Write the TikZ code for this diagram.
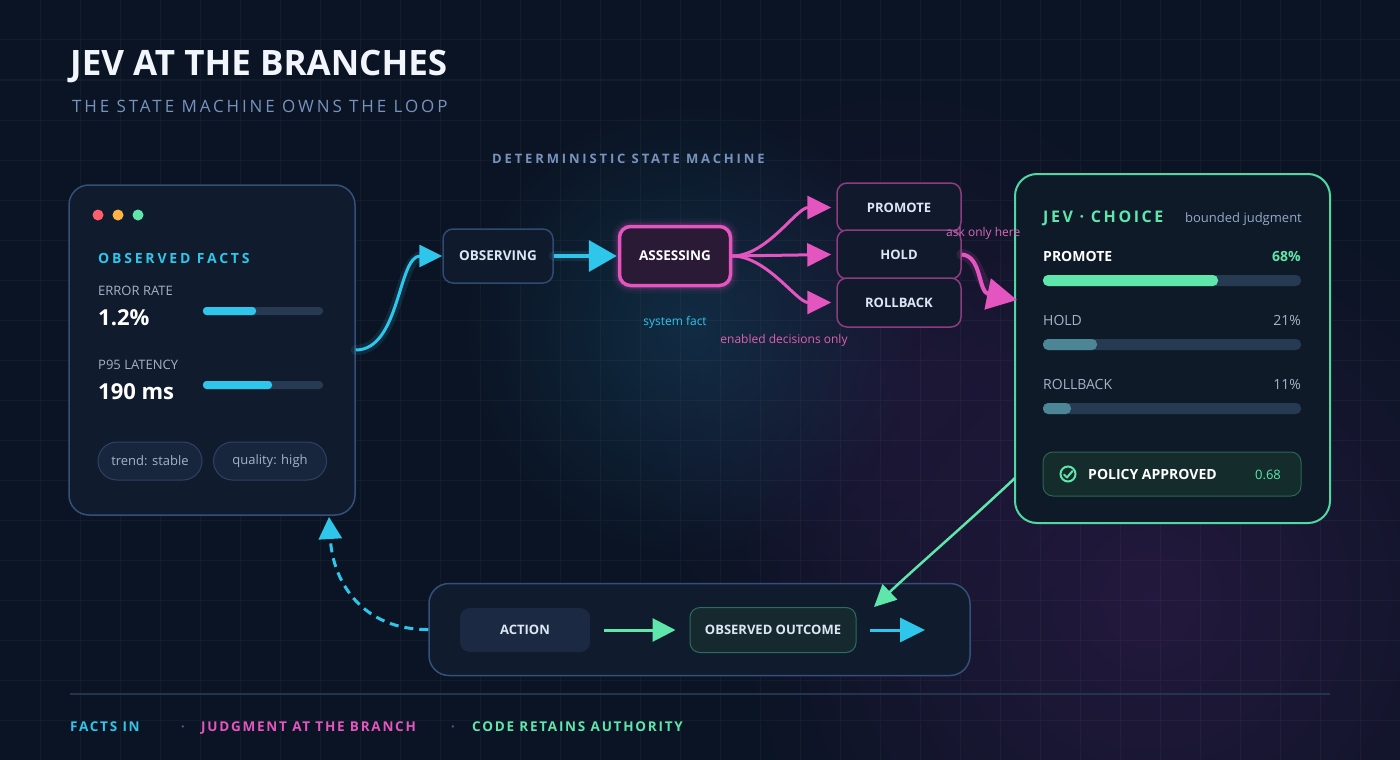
\documentclass[tikz,border=0pt]{standalone}
\usepackage{fontspec}
\setmainfont{Open Sans}
\usetikzlibrary{arrows.meta,fadings,calc}
\newcommand{\myfs}[1]{\fontsize{#1}{#1}\selectfont}
\newcommand{\myls}[1]{\addfontfeature{LetterSpace=#1}}
\definecolor{bgc}{HTML}{0B1424}
\definecolor{cardfill}{HTML}{111B2E}
\definecolor{cardline}{HTML}{34507A}
\definecolor{jevfill}{HTML}{0F1A28}
\definecolor{jevline}{HTML}{4FD8A2}
\definecolor{cyanc}{HTML}{2EC6EA}
\definecolor{magc}{HTML}{E455BF}
\definecolor{greenc}{HTML}{5EE6AB}
\definecolor{titlec}{HTML}{F2F6FC}
\definecolor{subc}{HTML}{7793BD}
\definecolor{mutedc}{HTML}{A4B3C8}
\definecolor{trackc}{HTML}{263A52}
\definecolor{holdbar}{HTML}{4C8595}
\definecolor{pillfill}{HTML}{17253D}
\definecolor{pillline}{HTML}{2D4263}
\definecolor{statefill}{HTML}{0F1A2D}
\definecolor{obsline}{HTML}{2F4B70}
\definecolor{assfill}{HTML}{2B1A35}
\definecolor{choiceline}{HTML}{8C3C7F}
\definecolor{choicefill}{HTML}{111A2D}
\definecolor{actfill}{HTML}{1B2A42}
\definecolor{outline}{HTML}{2C6E5C}
\definecolor{outfill}{HTML}{15292E}
\definecolor{polfill}{HTML}{142C2C}
\definecolor{polline}{HTML}{2A6650}
\definecolor{footline}{HTML}{22344E}
\definecolor{dotc}{HTML}{4A6080}
\definecolor{nodetext}{HTML}{DCE6F4}
\definecolor{asktext}{HTML}{D46CB5}
\definecolor{enabletext}{HTML}{E060B0}
\definecolor{redc}{HTML}{FF5F6D}
\definecolor{orangec}{HTML}{FFB347}
\definecolor{tealglow}{HTML}{14405A}
\definecolor{purpglow}{HTML}{2A1A44}
\tikzfading[name=softglow, inner color=transparent!0, outer color=transparent!100]
\tikzset{
  card/.style={draw=cardline, line width=1.5pt, fill=cardfill, rounded corners=20pt, inner sep=0pt},
  txt/.style={anchor=base west, inner sep=0pt, text=#1},
  txtr/.style={anchor=base east, inner sep=0pt, text=#1},
  statebox/.style={draw=obsline, line width=1.5pt, fill=statefill, rounded corners=10pt, inner sep=0pt,
    minimum width=110pt, minimum height=54pt, text=nodetext, font=\myfs{13.5}\bfseries},
  assessbox/.style={draw=magc, line width=3.5pt, fill=assfill, rounded corners=11pt, inner sep=0pt,
    minimum width=111pt, minimum height=59pt, text=white, font=\myfs{13.5}\bfseries},
  choicebox/.style={draw=choiceline, line width=1.5pt, fill=choicefill, rounded corners=10pt, inner sep=0pt,
    minimum width=124pt, minimum height=49pt, text=nodetext, font=\myfs{13}\bfseries},
  pill/.style={draw=pillline, line width=1pt, fill=pillfill, rounded corners=19pt, inner sep=0pt,
    minimum height=38pt, text=mutedc, font=\myfs{13}},
  cyanline/.style={draw=cyanc, line width=3pt},
  magline/.style={draw=magc, line width=3pt},
  greenline/.style={draw=greenc, line width=2.5pt},
  glowcyan/.style={draw=cyanc, line width=10pt, opacity=0.12, line cap=round},
  glowmag/.style={draw=magc, line width=11pt, opacity=0.14, line cap=round},
}
\begin{document}
\begin{tikzpicture}[x=1pt,y=-1pt]
\useasboundingbox (0,0) rectangle (1400,760);
% background
\fill[bgc] (0,0) rectangle (1400,760);
\fill[purpglow, path fading=softglow, fill opacity=0.8] (1150,600) circle (420);
\fill[purpglow, path fading=softglow, fill opacity=0.5] (900,380) circle (300);
\fill[tealglow, path fading=softglow, fill opacity=0.55] (690,330) circle (230);
\draw[white, opacity=0.035, line width=1pt]
  \foreach \gx in {40,80,...,1360} {(\gx,0) -- (\gx,760)}
  \foreach \gy in {40,80,...,720} {(0,\gy) -- (1400,\gy)};

% title
\node[txt=titlec, font=\myfs{35}\bfseries] (title) at (70,76) {JEV AT THE BRANCHES};
\node[txt=subc, font=\myfs{17}\myls{17}] (subtitle) at (72,112) {THE STATE MACHINE OWNS THE LOOP};
\node[txt=subc, font=\myfs{13}\bfseries\myls{22}] (dsm) at (492,163) {DETERMINISTIC STATE MACHINE};

% left card
\node[card, minimum width=286pt, minimum height=330pt] (facts) at (212,350) {};
\fill[redc] (98,215) circle (5.5);
\fill[orangec] (118,215) circle (5.5);
\fill[greenc] (138,215) circle (5.5);
\node[txt=cyanc, font=\myfs{14}\bfseries\myls{20}] (oflabel) at (98,263) {OBSERVED FACTS};
\node[txt=mutedc, font=\myfs{13}] (errl) at (98,295) {ERROR RATE};
\node[txt=white, font=\myfs{22}\bfseries] (errv) at (98,325) {1.2\%};
\fill[trackc, rounded corners=3.5pt] (203,307) rectangle (323,315);
\fill[cyanc, rounded corners=3.5pt] (203,307) rectangle (256,315);
\node[txt=mutedc, font=\myfs{13}] (latl) at (98,369) {P95 LATENCY};
\node[txt=white, font=\myfs{22}\bfseries] (latv) at (98,399) {190 ms};
\fill[trackc, rounded corners=3.5pt] (203,381) rectangle (323,389);
\fill[cyanc, rounded corners=3.5pt] (203,381) rectangle (272,389);
\node[pill, minimum width=104pt] (trend) at (150,461) {trend: stable};
\node[pill, minimum width=113pt] (quality) at (270,461) {quality: high};

% right card
\node[card, draw=jevline, fill=jevfill, line width=2pt, rounded corners=22pt, minimum width=315pt, minimum height=349pt] (jev) at (1172.5,348.5) {};
\node[txt=greenc, font=\myfs{16}\bfseries\myls{16}] (jevt) at (1043,222) {JEV · CHOICE};
\node[txtr=subc!80!white, font=\myfs{13}] (bj) at (1302,222) {bounded judgment};
\node[txt=white, font=\myfs{14}\bfseries] (pl) at (1043,261) {PROMOTE};
\node[txtr=greenc, font=\myfs{14}\bfseries] (pv) at (1301,261) {68\%};
\fill[trackc, rounded corners=5pt] (1043,275) rectangle (1301,286);
\fill[greenc, rounded corners=5pt] (1043,275) rectangle (1218,286);
\node[txt=mutedc, font=\myfs{14}] (hl) at (1043,325) {HOLD};
\node[txtr=mutedc, font=\myfs{14}] (hv) at (1301,325) {21\%};
\fill[trackc, rounded corners=5pt] (1043,339) rectangle (1301,350);
\fill[holdbar, rounded corners=5pt] (1043,339) rectangle (1097,350);
\node[txt=mutedc, font=\myfs{14}] (rl) at (1043,389) {ROLLBACK};
\node[txtr=mutedc, font=\myfs{14}] (rv) at (1301,389) {11\%};
\fill[trackc, rounded corners=5pt] (1043,403) rectangle (1301,414);
\fill[holdbar, rounded corners=5pt] (1043,403) rectangle (1071,414);
\node[draw=polline, line width=1pt, fill=polfill, rounded corners=10pt, minimum width=258pt, minimum height=44pt, inner sep=0pt] (pol) at (1172,474) {};
\draw[greenc, line width=2pt] (1068,474) circle (7.5);
\draw[greenc, line width=2pt, line cap=round, line join=round] (1064,474.5) -- (1067,477.5) -- (1072.5,471);
\node[txt=white, font=\myfs{14}\bfseries] (pa) at (1088,479) {POLICY APPROVED};
\node[anchor=base, inner sep=0pt, text=greenc, font=\myfs{13}] (pav) at (1268,479) {0.68};

% state machine glow
\foreach \w/\o in {16/0.05, 11/0.07, 7/0.10} {
  \draw[magc, opacity=\o, line width=\w pt, rounded corners=11pt] (619.5,226.5) rectangle (730.5,285.5);
}
\node[statebox] (obs) at (498,256) {OBSERVING};
\node[assessbox] (ass) at (675,256) {ASSESSING};
\node[choicebox] (prom) at (899,207.5) {PROMOTE};
\node[choicebox] (hold) at (899,254.5) {HOLD};
\node[choicebox] (roll) at (899,302.5) {ROLLBACK};

% bottom loop
\node[card, minimum width=541pt, minimum height=92pt] (loop) at (699.5,629.5) {};
\node[fill=actfill, rounded corners=10pt, minimum width=130pt, minimum height=44pt, inner sep=0pt, text=nodetext, font=\myfs{13}\bfseries] (act) at (525,630) {ACTION};
\node[draw=outline, line width=1pt, fill=outfill, rounded corners=10pt, minimum width=166pt, minimum height=45pt, inner sep=0pt, text=nodetext, font=\myfs{13}\bfseries] (out) at (773,630) {OBSERVED OUTCOME};

% connectors
\coordinate (jevin) at (1017,300);
\coordinate (jevout) at (1015,478);
\coordinate (outin) at (874,607);
\coordinate (loopend) at (925,630);
\coordinate (factsin) at (329,517);

\draw[glowcyan] (facts.east) .. controls (400,350) and (398,256) .. ([xshift=-20pt]obs.west);
\draw[cyanline, -{Triangle[length=23pt,width=22pt]}] (facts.east) .. controls (400,350) and (398,256) .. (obs.west);
\draw[glowcyan, line width=10pt] (obs.east) -- ([xshift=-26pt]ass.west);
\draw[cyanline, line width=4pt, -{Triangle[length=28pt,width=31pt]}] (obs.east) -- ([xshift=-1pt]ass.west);

\draw[magline, -{Triangle[length=24pt,width=23pt]}] (ass.east) to[out=0, in=180, looseness=0.8] ([xshift=-5pt]prom.west);
\draw[magline, -{Triangle[length=24pt,width=23pt]}] (ass.east) -- ([xshift=-5pt]hold.west);
\draw[magline, -{Triangle[length=24pt,width=23pt]}] (ass.east) to[out=0, in=180, looseness=0.8] ([xshift=-5pt]roll.west);

\draw[glowmag] (hold.east) .. controls (978,256) and (978,280) .. (992,295);
\draw[magline, line width=4pt, -{Triangle[length=30pt,width=31pt]}] (hold.east) .. controls (982,256) and (978,292) .. (jevin);

\draw[greenline, -{Triangle[length=22pt,width=21pt]}] (jevout) .. controls (965,525) and (915,568) .. (outin);
\draw[greenline, line width=3pt, -{Triangle[length=23pt,width=23pt]}] ([xshift=14pt]act.east) -- ([xshift=-14pt]out.west);
\draw[cyanline, -{Triangle[length=25pt,width=24pt]}] ([xshift=13pt]out.east) -- (loopend);
\draw[cyanline, dash pattern=on 9pt off 6pt, -{Triangle[length=22pt,width=23pt]}] (loop.west) .. controls (365,630) and (333,585) .. (factsin);

% labels
\node[txt=asktext, font=\myfs{12}] (ask) at (946,236) {ask only here};
\node[anchor=base, inner sep=0pt, text=cyanc, font=\myfs{12}] (sysf) at (675,325) {system fact};
\node[anchor=base, inner sep=0pt, text=enabletext, font=\myfs{12}] (enab) at (784,343) {enabled decisions only};

% footer
\draw[footline, line width=2pt] (70,694) -- (1330,694);
\node[txt=cyanc, font=\myfs{13.5}\bfseries\myls{13}] (f1) at (70,731) {FACTS IN};
\node[anchor=base, inner sep=0pt, text=dotc, font=\myfs{13}\bfseries] (d1) at (183,731) {·};
\node[txt=magc, font=\myfs{13.5}\bfseries\myls{13}] (f2) at (201,731) {JUDGMENT AT THE BRANCH};
\node[anchor=base, inner sep=0pt, text=dotc, font=\myfs{13}\bfseries] (d2) at (453,731) {·};
\node[txt=greenc, font=\myfs{13.5}\bfseries\myls{13}] (f3) at (472,731) {CODE RETAINS AUTHORITY};
\end{tikzpicture}
\end{document}
